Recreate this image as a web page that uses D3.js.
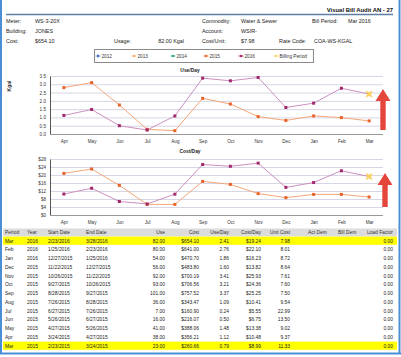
<!DOCTYPE html>
<html><head><meta charset="utf-8">
<script src="https://cdn.jsdelivr.net/npm/d3@7"></script>
<style>
body{margin:0;background:#fff;}
svg{display:block;font-family:"Liberation Sans",Arial,sans-serif;}
</style></head>
<body><div id="c"></div>
<script>
// ---- data ----
const months = ["Apr","May","Jun","Jul","Aug","Sep","Oct","Nov","Dec","Jan","Feb","Mar"];
const useDay2015 = [2.80,3.10,1.75,0.28,0.20,2.15,1.81,1.05,0.82,1.09,0.99,0.79];
const useDay2016 = [1.12,1.48,0.50,0.24,1.09,3.37,3.21,3.41,1.60,1.86,2.76,2.41];
const costDay2015 = [20.8,23.0,14.8,5.3,5.3,16.8,15.3,10.7,8.7,10.3,10.3,8.99];
const costDay2016 = [10.48,13.38,6.75,5.55,10.41,25.25,24.36,25.93,13.82,16.23,22.10,19.24];
const useTicks = [0,0.5,1,1.5,2,2.5,3,3.5];
const costTicks = [0,4,8,12,16,20,24,28];
const legendLabels = ["2012","2013","2014","2015","2016","Billing Period"];
const legendColors = ["#3b6fc2","#f7b36f","#2fa88a","#ec6a2e","#ad2a6e","#fdd86a"];

const periods = ["Mar","Feb","Jan","Dec","Nov","Oct","Sep","Aug","Jul","Jun","May","Apr","Mar"];
const years = ["2016","2016","2016","2015","2015","2015","2015","2015","2015","2015","2015","2015","2015"];
const startDates = ["2/23/2016","1/25/2016","12/27/2015","11/22/2015","10/26/2015","9/27/2015","8/28/2015","7/26/2015","6/27/2015","5/26/2015","4/27/2015","3/24/2015","2/23/2015"];
const endDates = ["3/28/2016","2/23/2016","1/25/2016","12/27/2015","11/22/2015","10/26/2015","9/27/2015","8/28/2015","7/26/2015","6/27/2015","5/26/2015","4/27/2015","3/24/2015"];
const uses = ["82.00","80.00","54.00","56.00","92.00","93.00","101.00","36.00","7.00","16.00","41.00","38.00","23.00"];
const costs = ["$654.10","$641.00","$470.70","$483.80","$700.19","$706.56","$757.52","$343.47","$160.90","$216.07","$388.06","$356.21","$260.66"];
const useDays = ["2.41","2.76","1.86","1.60","3.41","3.21","3.37","1.09","0.24","0.50","1.48","1.12","0.79"];
const costDays = ["$19.24","$22.10","$16.23","$13.82","$25.93","$24.36","$25.25","$10.41","$5.55","$6.75","$13.38","$10.48","$8.99"];
const unitCosts = ["7.98","8.01","8.72","8.64","7.61","7.60","7.50","9.54","22.99","13.50","9.02","9.37","11.33"];
const loadFactors = ["0.00","0.00","0.00","0.00","0.00","0.00","0.00","0.00","0.00","0.00","0.00","0.00","0.00"];
const highlightRows = [0,12];

// ---- drawing ----
const W=401,H=357;
const svg=d3.select("#c").append("svg").attr("width",W).attr("height",H);

// page border
svg.append("line").attr("x1",1).attr("x2",1).attr("y1",0).attr("y2",354).attr("stroke","#4a8fd6").attr("stroke-width",2);
svg.append("line").attr("x1",399.5).attr("x2",399.5).attr("y1",0).attr("y2",354).attr("stroke","#4a8fd6").attr("stroke-width",2);
svg.append("line").attr("x1",0).attr("x2",401).attr("y1",353.5).attr("y2",353.5).attr("stroke","#4a8fd6").attr("stroke-width",2);

// title
svg.append("text").attr("x",393).attr("y",12).attr("text-anchor","end").attr("font-size",5.9).attr("font-weight","bold").attr("fill","#111").text("Visual Bill Audit AN - 27");
svg.append("line").attr("x1",6).attr("x2",393).attr("y1",14.5).attr("y2",14.5).attr("stroke","#5d7ea6").attr("stroke-width",1.3);

// header fields
const hdr=[
 [6,23,"Meter:"],[35,23,"WS-3-20X"],[202,23,"Commodity:"],[241,23,"Water & Sewer"],[312,23,"Bill Period:"],[348,23,"Mar 2016"],
 [6,33,"Building:"],[35,33,"JONES"],[202,33,"Account:"],[241,33,"WSIR-"],
 [6,43,"Cost:"],[35,43,"$654.10"],[114,43,"Usage:"],[202,43,"Cost/Unit:"],[241,43,"$7.98"],[279,43,"Rate Code:"],[314,43,"COA-WS-KGAL"]
];
svg.append("g").selectAll("text").data(hdr).join("text")
 .attr("x",d=>d[0]).attr("y",d=>d[1]).attr("font-size",5.4).attr("fill","#222").text(d=>d[2]);
svg.append("text").attr("x",184).attr("y",43).attr("text-anchor","end").attr("font-size",5.4).attr("fill","#222").text("82.00  Kgal");

// legend
svg.append("rect").attr("x",94.5).attr("y",49.5).attr("width",219).attr("height",13).attr("fill","#fff").attr("stroke","#8a8a8a").attr("stroke-width",1);
const legX=[97,133,172,205,240,275];
const lg=svg.append("g").selectAll("g").data(legendLabels).join("g").attr("transform",(d,i)=>`translate(${legX[i]},56)`);
lg.append("line").attr("x1",-1.5).attr("x2",3.5).attr("y1",0).attr("y2",0).attr("stroke",(d,i)=>legendColors[i]).attr("stroke-width",0.8);
lg.append("path").attr("transform","translate(1,0)").attr("d",(d,i)=>d3.symbol(i===0?d3.symbolDiamond:d3.symbolSquare).size(5)()).attr("fill",(d,i)=>legendColors[i]);
lg.append("text").attr("x",4.5).attr("y",1.7).attr("font-size",4.7).attr("fill","#333").text(d=>d);

// charts
const x=d3.scalePoint().domain(months).range([50,383]).padding(0.5);
function chart(top,bottom,ticks,fmt,s15,s16,title,titleY,ylabel){
  const y=d3.scaleLinear().domain([ticks[0],ticks[ticks.length-1]]).range([bottom,top]);
  const g=svg.append("g");
  g.append("text").attr("x",190).attr("y",titleY).attr("text-anchor","middle").attr("font-size",4.9).attr("font-weight","bold").attr("fill","#222").text(title);
  g.append("g").selectAll("line").data(ticks.slice(1)).join("line")
   .attr("x1",50).attr("x2",383).attr("y1",d=>y(d)+0.5).attr("y2",d=>y(d)+0.5).attr("stroke","#d6d6e4").attr("stroke-width",1);
  const ya=g.append("g").attr("transform","translate(50,0)").call(d3.axisLeft(y).tickValues(ticks).tickFormat(fmt).tickSize(0).tickPadding(4));
  ya.select(".domain").attr("stroke","#555");
  ya.selectAll("text").attr("font-size",4.6).attr("fill","#333").attr("font-family","Liberation Sans, Arial, sans-serif");
  const xa=g.append("g").attr("transform",`translate(0,${bottom+0.5})`).call(d3.axisBottom(x).tickSize(0).tickPadding(5));
  xa.select(".domain").attr("stroke","#999").attr("d","M50,0H383");
  xa.selectAll("text").attr("font-size",4.6).attr("fill","#333").attr("font-family","Liberation Sans, Arial, sans-serif");
  if(ylabel){
    g.append("text").attr("transform",`translate(11,86) rotate(-90)`).attr("text-anchor","middle").attr("font-size",5).attr("font-weight","bold").attr("fill","#333").text(ylabel);
  }
  const line=d3.line().x((d,i)=>x(months[i])).y(d=>y(d));
  g.append("path").attr("d",line(s15)).attr("fill","none").attr("stroke","#f5a577").attr("stroke-width",1);
  g.append("path").attr("d",line(s16)).attr("fill","none").attr("stroke","#cc8fc0").attr("stroke-width",1);
  g.append("g").selectAll("rect").data(s15).join("rect").attr("x",(d,i)=>x(months[i])-1.5).attr("y",d=>y(d)-1.5).attr("width",3).attr("height",3).attr("fill","#e9622a");
  g.append("g").selectAll("rect").data(s16.slice(0,11)).join("rect").attr("x",(d,i)=>x(months[i])-1.5).attr("y",d=>y(d)-1.5).attr("width",3).attr("height",3).attr("fill","#a2276d");
  // billing period star
  const sx=x(months[11]), sy=y(s16[11]);
  const star="M0,-4.4L1.1,-1.1L4.4,0L1.1,1.1L0,4.4L-1.1,1.1L-4.4,0L-1.1,-1.1Z";
  g.append("path").attr("d",star).attr("transform",`translate(${sx},${sy}) rotate(45)`).attr("fill","#fdd25a").attr("stroke","#f5c040").attr("stroke-width",0.4);
}
chart(76,134,useTicks,d3.format(".1f"),useDay2015,useDay2016,"Use/Day",72,"Kgal");
chart(159,215,costTicks,d=>"$"+d,costDay2015,costDay2016,"Cost/Day",153,null);

// red arrows
function arrow(cx,tip,headBase,bot){
  const hw=7.5,sw=2.7;
  svg.append("path").attr("d",`M${cx},${tip}L${cx+hw},${headBase}L${cx+sw},${headBase}L${cx+sw},${bot}L${cx-sw},${bot}L${cx-sw},${headBase}L${cx-hw},${headBase}Z`)
   .attr("fill","#e5463c");
}
arrow(383,89,101,130);
arrow(385,173,185,207);

// table
svg.append("rect").attr("x",3).attr("y",228.5).attr("width",394).attr("height",8).attr("fill","#dcdcdc");
const rowY=i=>241+i*8.75;
svg.append("g").selectAll("rect").data(highlightRows).join("rect")
 .attr("x",3).attr("y",d=>rowY(d)-4.4).attr("width",394).attr("height",8.2).attr("fill","#ffff00");
const cols=[
 {h:"Period",x:5,a:"start",v:periods},
 {h:"Year",x:27,a:"start",v:years},
 {h:"Start Date",x:48,a:"start",v:startDates},
 {h:"End Date",x:86,a:"start",v:endDates},
 {h:"Use",x:165,a:"end",v:uses},
 {h:"Cost",x:199,a:"end",v:costs},
 {h:"Use/Day",x:229,a:"end",v:useDays},
 {h:"Cost/Day",x:261,a:"end",v:costDays},
 {h:"Unit Cost",x:290,a:"end",v:unitCosts},
 {h:"Act Dem",x:308,a:"start",v:null},
 {h:"Bill Dem",x:338,a:"start",v:null},
 {h:"Load Factor",x:393,a:"end",v:loadFactors}
];
const tg=svg.append("g").attr("font-size",4.9).attr("fill","#222");
cols.forEach(c=>{
  tg.append("text").attr("x",c.x).attr("y",234.3).attr("text-anchor",c.a).attr("fill","#333").text(c.h);
  if(c.v){
    tg.append("g").selectAll("text").data(c.v).join("text")
      .attr("x",c.x).attr("y",(d,i)=>rowY(i)+1.7).attr("text-anchor",c.a).text(d=>d);
  }
});
</script></body></html>
